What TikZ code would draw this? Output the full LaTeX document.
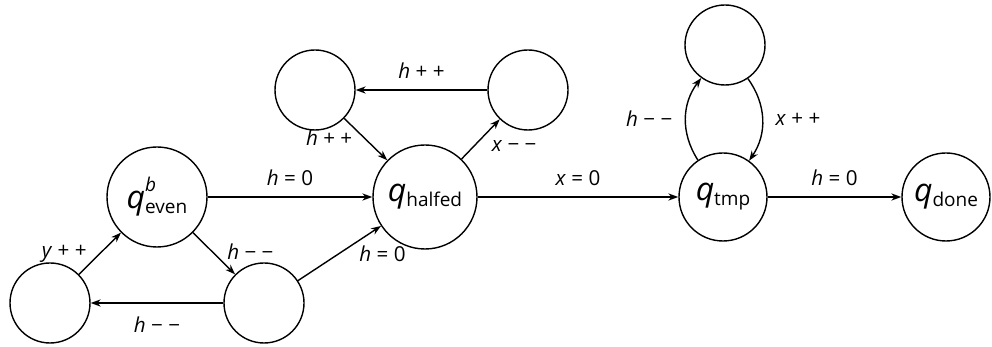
\documentclass[tikz,border=0pt]{standalone}
\usepackage{fontspec}
\setmainfont{Open Sans}
\usetikzlibrary{arrows.meta,positioning}
\newcommand{\labelfont}{\fontsize{10.3}{12}\selectfont}
\newcommand{\qstate}[1]{{\fontsize{16}{18}\selectfont\textit{q}}\raisebox{-0.45ex}{\fontsize{9.5}{11}\selectfont #1}}
\newcommand{\qstatesup}[2]{{\fontsize{16}{18}\selectfont\textit{q}}\makebox[0pt][l]{\raisebox{1.55ex}{\fontsize{9.5}{11}\selectfont\textit{#2}}}\raisebox{-0.45ex}{\fontsize{9.5}{11}\selectfont #1}}
\newcommand{\inc}[1]{\textit{#1}\ +\ +}
\newcommand{\dec}[1]{\textit{#1}\ −\ −}
\newcommand{\zero}[1]{\textit{#1}\ =\ 0}

\begin{document}
\begin{tikzpicture}[
  x=0.5pt,y=0.5pt,
  every node/.style={font=\labelfont},
  state/.style={draw,circle,line width=0.7pt,inner sep=0pt,minimum size=40pt},
  edge/.style={->,line width=0.7pt},
  >={Stealth[length=5pt,width=3.6pt]}
]
\useasboundingbox (0,0) rectangle (992,347);
% states
\node[state] (ypp) at (50,44) {};
\node[state,minimum size=50pt] (even) at (157,150) {\qstatesup{even}{b}};
\node[state] (hmm) at (264,44) {};
\node[state] (hpp) at (315,257) {};
\node[state] (xmm) at (528,257) {};
\node[state,minimum size=52pt] (halfed) at (425,150) {\qstate{halfed}};
\node[state,minimum size=44pt] (tmp) at (723,150) {\qstate{tmp}};
\node[state] (xpp) at (725,302) {};
\node[state,minimum size=44pt] (done) at (946,150) {\qstate{done}};

% transitions
\draw[edge] (ypp) -- node[left=3pt] {\inc{y}} (even);
\draw[edge] (even) -- node[right=4pt,pos=0.45] {\dec{h}} (hmm);
\draw[edge] (hmm) -- node[below=3pt] {\dec{h}} (ypp);
\draw[edge] (even) -- node[above=2pt] {\zero{h}} (halfed);
\draw[edge] (hmm) -- node[below right=-2pt and -2pt,pos=0.7] {\zero{h}} (halfed);
\draw[edge] (hpp) -- node[left=2pt,pos=0.45] {\inc{h}} (halfed);
\draw[edge] (halfed) -- node[below right=-1pt and 0pt,pos=0.6] {\dec{x}} (xmm);
\draw[edge] (xmm) -- node[above=2pt] {\inc{h}} (hpp);
\draw[edge] (halfed) -- node[above=2pt] {\zero{x}} (tmp);
\draw[edge] (tmp) to[bend left=35] node[left=3pt] {\dec{h}} (xpp);
\draw[edge] (xpp) to[bend left=35] node[right=3pt] {\inc{x}} (tmp);
\draw[edge] (tmp) -- node[above=2pt] {\zero{h}} (done);
\end{tikzpicture}
\end{document}
